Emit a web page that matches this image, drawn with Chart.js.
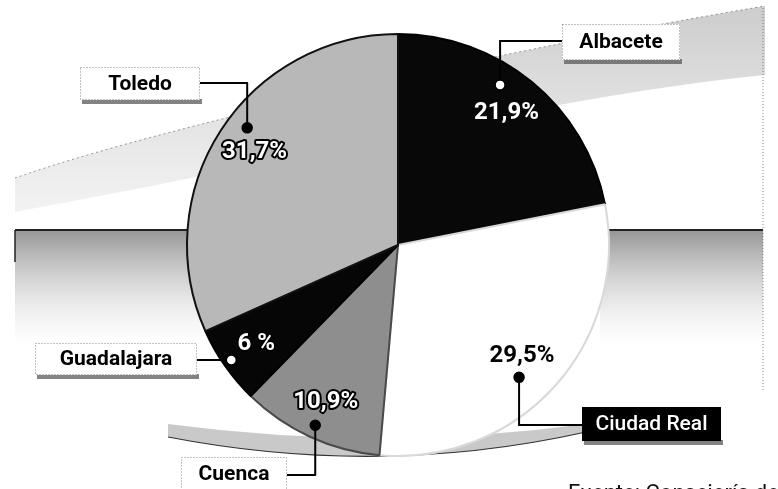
<!DOCTYPE html>
<html><head><meta charset="utf-8">
<script src="https://cdn.jsdelivr.net/npm/chart.js@4/dist/chart.umd.min.js"></script>
<style>html,body{margin:0;padding:0;background:#fff;overflow:hidden}</style>
</head><body>
<canvas id="c" width="778" height="489"></canvas>
<script>
// ---- data ----
const provincias = ['Albacete', 'Ciudad Real', 'Cuenca', 'Guadalajara', 'Toledo'];
const porcentajes = [21.9, 29.5, 10.9, 6, 31.7];
const etiquetas = ['21,9%', '29,5%', '10,9%', '6 %', '31,7%'];
const fuente = 'Fuente: Consejería de Economía y Hacienda';

// ---- styles ----
const sliceColors = ['#080808', '#ffffff', '#8e8e8e', '#060606', '#b8b8b8'];
const sliceBorders = ['#000000', '#d8d8d8', '#4a4a4a', '#000000', '#111111'];

const callouts = [
  { box: [562, 24, 118, 36], anchor: [562, 41], dotOff: -6.9, dotFrac: 0.90, dotFill: '#fff',
    boxFill: '#fff', txt: '#000', weight: 'bold', lab: { frac: 0.81, fill: '#fff', stroke: null } },
  { box: [582, 407, 139, 34], anchor: [582, 425], dotOff: 5.6, dotFrac: 0.85, dotFill: '#000',
    boxFill: '#000', txt: '#fff', weight: '500', lab: { frac: 0.79, fill: '#000', stroke: '#fff' } },
  { box: [181, 457, 106, 40], anchor: [287, 475], dotOff: 0, dotFrac: 0.94, dotFill: '#000',
    boxFill: '#fff', txt: '#000', weight: 'bold', lab: { frac: 0.82, fill: '#fff', stroke: '#000' } },
  { box: [35, 343, 162, 32], anchor: [197, 360], dotOff: 0.3, dotFrac: 0.96, dotFill: '#fff',
    boxFill: '#fff', txt: '#000', weight: 'bold', lab: { frac: 0.82, fill: '#fff', stroke: '#000' } },
  { box: [80, 67, 120, 33], anchor: [200, 83], dotOff: 4.9, dotFrac: 0.905, dotFill: '#000',
    boxFill: '#fff', txt: '#000', weight: 'bold', lab: { frac: 0.81, fill: '#fff', stroke: '#000' } }
];

const bgPlugin = {
  id: 'bgDeco',
  beforeDraw(chart) {
    const c = chart.ctx;
    c.save();
    c.fillStyle = '#fff';
    c.fillRect(0, 0, chart.width, chart.height);
    // upper swoosh
    c.beginPath();
    c.moveTo(15, 178);
    c.bezierCurveTo(150, 130, 500, 50, 765, 6);
    c.lineTo(765, 75);
    c.bezierCurveTo(560, 95, 300, 160, 15, 212);
    c.closePath();
    let g = c.createLinearGradient(0, 20, 0, 210);
    g.addColorStop(0, 'rgba(140,140,140,0.42)');
    g.addColorStop(1, 'rgba(170,170,170,0.15)');
    c.fillStyle = g;
    c.fill();
    c.strokeStyle = 'rgba(60,60,60,0.5)';
    c.setLineDash([2, 3]);
    c.lineWidth = 1;
    c.beginPath();
    c.moveTo(15, 178);
    c.bezierCurveTo(150, 130, 500, 50, 765, 6);
    c.stroke();
    c.setLineDash([]);
    // horizontal bands
    const band = (x0, x1) => {
      const gb = c.createLinearGradient(0, 230, 0, 345);
      gb.addColorStop(0, 'rgba(105,105,105,0.7)');
      gb.addColorStop(0.3, 'rgba(125,125,125,0.45)');
      gb.addColorStop(1, 'rgba(200,200,200,0)');
      c.fillStyle = gb;
      c.fillRect(x0, 230, x1 - x0, 115);
      c.strokeStyle = '#222';
      c.lineWidth = 2;
      c.beginPath();
      c.moveTo(x0, 230); c.lineTo(x1, 230);
      c.stroke();
    };
    band(15, 200);
    band(600, 763);
    c.strokeStyle = '#222';
    c.lineWidth = 1.5;
    c.beginPath(); c.moveTo(15, 230); c.lineTo(15, 262); c.stroke();
    // right dotted border
    c.strokeStyle = 'rgba(90,90,90,0.7)';
    c.lineWidth = 1;
    c.setLineDash([1, 2]);
    c.beginPath(); c.moveTo(763, 8); c.lineTo(763, 392); c.stroke();
    c.setLineDash([]);
    // shadow beneath pie
    c.beginPath();
    c.moveTo(168, 437);
    c.quadraticCurveTo(380, 478, 586, 432);
    c.lineTo(586, 424);
    c.quadraticCurveTo(380, 452, 168, 424);
    c.closePath();
    c.fillStyle = 'rgba(120,120,120,0.4)';
    c.fill();
    c.strokeStyle = '#333';
    c.lineWidth = 1.2;
    c.beginPath();
    c.moveTo(168, 437);
    c.quadraticCurveTo(380, 478, 586, 432);
    c.stroke();
    c.restore();
  }
};

const calloutPlugin = {
  id: 'callouts',
  afterDatasetsDraw(chart) {
    const ctx = chart.ctx;
    const meta = chart.getDatasetMeta(0);
    ctx.save();
    const dots = [];
    meta.data.forEach((arc, i) => {
      const p = arc.getProps(['x', 'y', 'startAngle', 'endAngle', 'outerRadius'], true);
      const mid = (p.startAngle + p.endAngle) / 2;
      const co = callouts[i];
      const a = mid + co.dotOff * Math.PI / 180;
      const dx = p.x + Math.cos(a) * p.outerRadius * co.dotFrac;
      const dy = p.y + Math.sin(a) * p.outerRadius * co.dotFrac;
      dots.push([dx, dy]);
      // leader line
      ctx.strokeStyle = '#000';
      ctx.lineWidth = 2;
      ctx.beginPath();
      ctx.moveTo(co.anchor[0], co.anchor[1]);
      ctx.lineTo(dx, co.anchor[1]);
      ctx.lineTo(dx, dy);
      ctx.stroke();
      // value label
      const lx = p.x + Math.cos(mid) * p.outerRadius * co.lab.frac;
      const ly = p.y + Math.sin(mid) * p.outerRadius * co.lab.frac;
      ctx.font = 'bold 24px Roboto, "Open Sans", sans-serif';
      ctx.textAlign = 'center';
      ctx.textBaseline = 'middle';
      if (co.lab.stroke) {
        ctx.strokeStyle = co.lab.stroke;
        ctx.lineWidth = 4;
        ctx.lineJoin = 'round';
        ctx.strokeText(etiquetas[i], lx, ly);
      }
      ctx.fillStyle = co.lab.fill;
      ctx.fillText(etiquetas[i], lx, ly);
    });
    // dots
    dots.forEach((d, i) => {
      ctx.beginPath();
      ctx.arc(d[0], d[1], 5, 0, Math.PI * 2);
      ctx.fillStyle = callouts[i].dotFill;
      ctx.fill();
      ctx.lineWidth = 1.5;
      ctx.strokeStyle = '#000';
      ctx.stroke();
    });
    // boxes
    callouts.forEach((co, i) => {
      const [x, y, w, h] = co.box;
      ctx.fillStyle = 'rgba(90,90,90,0.75)';
      ctx.fillRect(x + 2, y + h - 1, w, 5);
      ctx.fillStyle = co.boxFill;
      ctx.fillRect(x, y, w, h);
      if (co.boxFill === '#fff') {
        ctx.strokeStyle = 'rgba(80,80,80,0.7)';
        ctx.lineWidth = 1;
        ctx.setLineDash([1, 2]);
        ctx.strokeRect(x + 0.5, y + 0.5, w - 1, h - 1);
        ctx.setLineDash([]);
      }
      ctx.fillStyle = co.txt;
      ctx.font = co.weight + ' 21px Roboto, "Open Sans", sans-serif';
      ctx.textAlign = 'center';
      ctx.textBaseline = 'middle';
      const ty = (i === 2) ? 475 : y + h / 2 + 1;
      ctx.fillText(provincias[i], x + w / 2, ty);
    });
    // source line (cut at bottom edge)
    ctx.fillStyle = '#111';
    ctx.font = '22px Roboto, "Open Sans", sans-serif';
    ctx.textAlign = 'left';
    ctx.textBaseline = 'alphabetic';
    ctx.fillText(fuente, 568, 500);
    ctx.restore();
  }
};

new Chart(document.getElementById('c'), {
  type: 'pie',
  data: {
    labels: provincias,
    datasets: [{
      data: porcentajes,
      backgroundColor: sliceColors,
      borderColor: sliceBorders,
      borderWidth: 2
    }]
  },
  options: {
    responsive: false,
    animation: false,
    layout: { padding: { left: 186, right: 168, top: 33, bottom: 32 } },
    plugins: {
      legend: { display: false },
      tooltip: { enabled: false },
      title: { display: false }
    }
  },
  plugins: [bgPlugin, calloutPlugin]
});
</script>
</body></html>
